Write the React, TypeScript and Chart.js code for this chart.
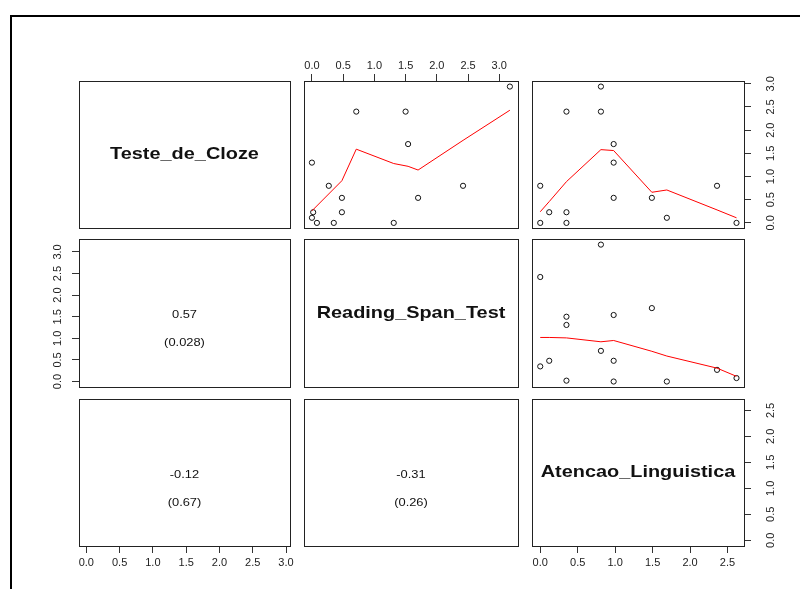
import React, { useEffect, useRef } from "react";
import { Chart, registerables } from "chart.js";
Chart.register(...registerables);

// ---- data ----
const variableNames = ["Teste_de_Cloze", "Reading_Span_Test", "Atencao_Linguistica"];
const testeDeCloze = [2.94, 0.8, 0.54, 1.7, 2.4, 0.0, 2.4, 0.54, 0.23, 0.0, 0.8, 0.0, 0.23, 1.3, 0.11];
const readingSpanTest = [3.17, 2.42, 1.7, 1.54, 1.5, 1.31, 0.71, 0.48, 0.48, 0.35, 0.27, 0.08, 0.02, 0.0, 0.0];
const atencaoLinguistica = [0.81, 0.0, 1.49, 0.98, 0.35, 0.35, 0.81, 0.98, 0.12, 0.0, 2.36, 2.62, 0.35, 0.98, 1.69];

// smoother (red) lines
const smoothRsX = [0, 0.48, 0.71, 1.31, 1.54, 1.7, 2.42, 3.17];
const smoothRsTc = [0.26, 0.91, 1.59, 1.28, 1.22, 1.14, 1.78, 2.43];
const smoothAlX = [0, 0.12, 0.35, 0.81, 0.98, 1.49, 1.69, 2.36, 2.62];
const smoothAlTc = [0.24, 0.46, 0.89, 1.58, 1.56, 0.66, 0.71, 0.28, 0.11];
const smoothAlRs = [1.02, 1.02, 1.01, 0.92, 0.95, 0.7, 0.59, 0.31, 0.12];

// lower panels: correlation and p-value
const correlations = ["0.57", "-0.12", "-0.31"];
const pValues = ["(0.028)", "(0.67)", "(0.26)"];

// axis ticks
const ticksTC = [0, 0.5, 1, 1.5, 2, 2.5, 3];
const ticksRS = [0, 0.5, 1, 1.5, 2, 2.5, 3];
const ticksAL = [0, 0.5, 1, 1.5, 2, 2.5];

const FONT = "'Liberation Sans', Arial, Helvetica, sans-serif";
const M = 40;
const TEXT_STRETCH = 1.17;
const colEdges = [[79, 290], [304, 518], [532, 744]];
const rowEdges = [[81, 228], [239, 387], [399, 546]];
const ranges = [[-0.11, 3.06], [-0.127, 3.3], [-0.11, 2.72]];
const tickSets = [ticksTC, ticksRS, ticksAL];
const series = [testeDeCloze, readingSpanTest, atencaoLinguistica];

type Txt = { text: string; bold?: boolean; size: number; dy: number };

function Panel(props: any) {
  const ref = useRef<HTMLCanvasElement>(null);
  const { box, xr, yr, xt, yt, xAxis, yAxis, datasets, texts } = props;
  const w = box[2] - box[0] + 2 * M;
  const h = box[3] - box[1] + 2 * M;
  useEffect(() => {
    const tickFont = { family: FONT, size: 11 };
    const makeScale = (axisPos: string | undefined, range: number[], ticksArr: number[], horizontal: boolean) => ({
      type: "linear",
      position: axisPos || (horizontal ? "bottom" : "left"),
      display: !!axisPos,
      min: range[0],
      max: range[1],
      afterBuildTicks: (s: any) => {
        s.ticks = ticksArr.map((v) => ({ value: v }));
      },
      afterFit: (s: any) => {
        if (axisPos) {
          if (horizontal) s.height = M;
          else s.width = M;
        }
        s.paddingLeft = 0;
        s.paddingRight = 0;
        s.paddingTop = 0;
        s.paddingBottom = 0;
      },
      border: { display: false },
      grid: { display: true, drawOnChartArea: false, drawTicks: true, tickLength: 7, tickColor: "#333", tickWidth: 1 },
      ticks: horizontal
        ? {
            padding: axisPos === "top" ? 1 : 3,
            color: "#222",
            font: tickFont,
            minRotation: 0,
            maxRotation: 0,
            autoSkip: false,
            callback: (v: any) => Number(v).toFixed(1),
          }
        : {
            padding: axisPos === "right" ? 12 : 6,
            color: "#222",
            font: tickFont,
            minRotation: 90,
            maxRotation: 90,
            crossAlign: "center",
            autoSkip: false,
            callback: (v: any) => Number(v).toFixed(1),
          },
    });
    const deco = {
      id: "deco",
      afterDraw(chart: any) {
        const { ctx, chartArea: a } = chart;
        ctx.save();
        ctx.strokeStyle = "#222";
        ctx.lineWidth = 1;
        ctx.strokeRect(Math.round(a.left) + 0.5, Math.round(a.top) + 0.5, Math.round(a.right - a.left), Math.round(a.bottom - a.top));
        const cx = (a.left + a.right) / 2;
        const cy = (a.top + a.bottom) / 2;
        ctx.fillStyle = "#111";
        ctx.textAlign = "center";
        ctx.textBaseline = "middle";
        (texts || []).forEach((t: Txt) => {
          ctx.save();
          ctx.font = `${t.bold ? "bold " : ""}${t.size}px ${FONT}`;
          ctx.translate(cx, cy + t.dy);
          ctx.scale(TEXT_STRETCH, 1);
          ctx.fillText(t.text, 0, 0);
          ctx.restore();
        });
        ctx.restore();
      },
    };
    const chart = new Chart(ref.current as HTMLCanvasElement, {
      type: "scatter",
      data: { datasets: datasets || [] },
      options: {
        responsive: false,
        animation: false,
        devicePixelRatio: 1,
        layout: {
          autoPadding: false,
          padding: {
            left: yAxis === "left" ? 0 : M,
            right: yAxis === "right" ? 0 : M,
            top: xAxis === "top" ? 0 : M,
            bottom: xAxis === "bottom" ? 0 : M,
          },
        },
        plugins: { legend: { display: false }, tooltip: { enabled: false } },
        events: [],
        scales: {
          x: makeScale(xAxis, xr, xt, true),
          y: makeScale(yAxis, yr, yt, false),
        },
      } as any,
      plugins: [deco],
    });
    return () => chart.destroy();
  }, []);
  return (
    <canvas
      ref={ref}
      width={w}
      height={h}
      style={{ position: "absolute", left: box[0] - M, top: box[1] - M, width: w, height: h }}
    />
  );
}

function smoothPoints(xs: number[], ys: number[]) {
  return xs.map((x, i) => ({ x, y: ys[i] }));
}

export default function App() {
  const panels: any[] = [];
  const axisFor = (r: number, c: number) => {
    let xAxis: string | undefined;
    let yAxis: string | undefined;
    if (r === 0 && c === 1) xAxis = "top";
    if (r === 2 && (c === 0 || c === 2)) xAxis = "bottom";
    if (c === 2 && (r === 0 || r === 2)) yAxis = "right";
    if (c === 0 && r === 1) yAxis = "left";
    return { xAxis, yAxis };
  };
  const smoothFor: Record<string, any[]> = {
    "0-1": smoothPoints(smoothRsX, smoothRsTc),
    "0-2": smoothPoints(smoothAlX, smoothAlTc),
    "1-2": smoothPoints(smoothAlX, smoothAlRs),
  };
  const corrIndex: Record<string, number> = { "1-0": 0, "2-0": 1, "2-1": 2 };
  for (let r = 0; r < 3; r++) {
    for (let c = 0; c < 3; c++) {
      const box = [colEdges[c][0], rowEdges[r][0], colEdges[c][1], rowEdges[r][1]];
      const { xAxis, yAxis } = axisFor(r, c);
      let datasets: any[] = [];
      let texts: Txt[] = [];
      if (r === c) {
        texts = [{ text: variableNames[r], bold: true, size: 17, dy: 0 }];
      } else if (c > r) {
        datasets = [
          {
            data: smoothFor[`${r}-${c}`],
            showLine: true,
            borderColor: "#ff0000",
            borderWidth: 1,
            pointRadius: 0,
            fill: false,
          },
          {
            data: series[c].map((x, i) => ({ x, y: series[r][i] })),
            pointStyle: "circle",
            pointRadius: 2.6,
            pointBorderWidth: 1,
            borderColor: "#111",
            backgroundColor: "rgba(0,0,0,0)",
            showLine: false,
          },
        ];
      } else {
        const k = corrIndex[`${r}-${c}`];
        texts = [
          { text: correlations[k], size: 11, dy: 2 },
          { text: pValues[k], size: 11, dy: 30 },
        ];
      }
      panels.push(
        <Panel
          key={`${r}-${c}`}
          box={box}
          xr={ranges[c]}
          yr={ranges[r]}
          xt={tickSets[c]}
          yt={tickSets[r]}
          xAxis={xAxis}
          yAxis={yAxis}
          datasets={datasets}
          texts={texts}
        />
      );
    }
  }
  return (
    <div style={{ position: "absolute", left: 0, top: 0, width: 800, height: 589, background: "#fff", overflow: "hidden" }}>
      <div
        style={{
          position: "absolute",
          left: 10,
          top: 15,
          right: -10,
          bottom: -10,
          borderTop: "2px solid #000",
          borderLeft: "2px solid #000",
        }}
      />
      {panels}
    </div>
  );
}
